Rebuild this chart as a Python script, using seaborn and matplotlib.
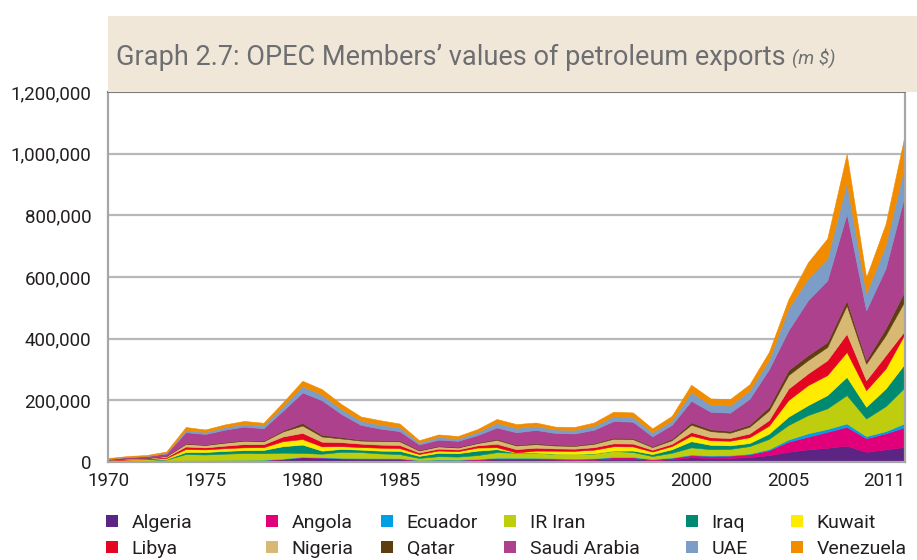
import matplotlib
matplotlib.use("Agg")
import matplotlib.pyplot as plt
from matplotlib.patches import Patch, Rectangle
import numpy as np
import pandas as pd
import seaborn as sns

# values of petroleum exports, m $, 1970-2011
years = list(range(1970, 2012))

algeria = [600, 800, 1000, 1400, 4200, 4300, 4800, 5600, 6000, 9000,
           15000, 13000, 11000, 10000, 9500, 9000, 4500, 5500, 5000, 6500,
           9500, 9500, 9000, 8000, 7000, 7500, 10500, 10500, 6000, 9000,
           15000, 13000, 13000, 16000, 22000, 33000, 41000, 46000, 53000, 33000, 41000, 49000]
angola = [100, 100, 200, 400, 600, 500, 500, 600, 700, 1000,
          1000, 1300, 1400, 1500, 1700, 1800, 1200, 1800, 2000, 2600,
          3500, 3400, 3700, 3000, 3000, 3500, 4800, 4800, 3000, 4500,
          7000, 6500, 7500, 9000, 16000, 33000, 41000, 52000, 61000, 44000, 52000, 64000]
ecuador = [100, 100, 200, 500, 600, 600, 800, 900, 800, 1300,
           1500, 1500, 1500, 1600, 1700, 1900, 900, 1000, 900, 1300,
           1400, 1200, 1300, 1200, 1300, 1500, 1700, 1600, 800, 1300,
           2500, 2000, 2000, 2500, 4000, 7000, 11000, 9000, 11000, 7000, 7000, 13000]
iran = [2000, 3300, 3800, 5600, 20500, 19000, 21000, 22000, 21000, 19000,
        12000, 11000, 19000, 19000, 15000, 13000, 6500, 10500, 9700, 12000,
        17500, 16000, 16000, 14000, 14000, 15000, 19000, 15500, 9500, 15000,
        23000, 20000, 20000, 24000, 33000, 47000, 59000, 67000, 92000, 57000, 81000, 117000]
iraq = [800, 1400, 1100, 1800, 6500, 8000, 8800, 9500, 10500, 21000,
        27000, 10000, 9500, 8000, 9000, 10500, 6800, 11000, 11000, 14500,
        9600, 400, 500, 400, 400, 500, 700, 4800, 6500, 11500,
        20000, 14000, 11500, 10000, 17000, 27000, 32000, 43000, 59000, 38000, 57000, 77000]
kuwait = [1300, 2100, 2400, 3200, 10000, 8500, 8900, 9000, 9200, 16500,
          18000, 14000, 9000, 8500, 9500, 9000, 6000, 7500, 6500, 10000,
          6500, 700, 6500, 10000, 10500, 12000, 14500, 13500, 8000, 10500,
          18000, 15000, 15000, 19000, 26000, 54000, 65000, 65000, 81000, 54000, 65000, 97000]
libya = [1800, 2400, 2400, 3500, 7800, 6500, 8200, 10400, 9500, 15000,
         20000, 15000, 13000, 11000, 10000, 10000, 5000, 6000, 5500, 7000,
         11000, 10500, 9500, 7500, 7000, 8000, 9300, 9000, 6000, 7000,
         11500, 9500, 9000, 12000, 18000, 37000, 38000, 48000, 59000, 32000, 43000, 10000]
nigeria = [700, 1600, 2000, 3200, 8800, 7700, 9600, 11000, 9500, 16500,
           24000, 17000, 12000, 10000, 11500, 12000, 6500, 7400, 6400, 7500,
           13000, 12000, 11500, 9500, 9000, 11000, 15000, 14500, 8500, 12000,
           24000, 20000, 17000, 22000, 31000, 44000, 43000, 43000, 92000, 54000, 65000, 97000]
qatar = [200, 300, 400, 600, 1900, 1800, 2100, 2000, 2200, 3600,
         8000, 5500, 4500, 3000, 3500, 3000, 1700, 1900, 1700, 1900,
         3000, 2800, 3000, 2800, 2400, 2700, 3500, 3500, 2800, 4500,
         7500, 6000, 6000, 6500, 12000, 16000, 16000, 16000, 16000, 11000, 22000, 33000]
saudi_arabia = [2400, 3800, 5500, 7500, 36000, 34000, 40000, 44000, 40000, 64000,
                99000, 112000, 75000, 48000, 37000, 30000, 18000, 20000, 20000, 24000,
                37000, 40000, 43000, 38000, 38000, 43000, 54000, 53000, 32000, 45000,
                70000, 57000, 59000, 84000, 122000, 129000, 178000, 200000, 281000, 162000, 195000, 313000]
uae = [500, 800, 1000, 1800, 6500, 6500, 8000, 9000, 9000, 13500,
       20000, 18000, 16000, 13000, 13000, 12000, 6500, 8300, 7500, 10000,
       14500, 14000, 13000, 11000, 11500, 12500, 15500, 15000, 13000, 14000,
       28000, 23000, 23000, 27000, 30000, 71000, 71000, 71000, 102000, 55000, 75000, 99000]
venezuela = [2400, 2600, 2800, 4500, 10000, 8000, 9000, 9200, 8700, 13500,
             18000, 18000, 16000, 14000, 14000, 12500, 7000, 8500, 8000, 9300,
             13000, 12500, 11000, 9300, 9500, 11000, 14500, 15000, 13000, 15000,
             24000, 20000, 21000, 20000, 26000, 29000, 52000, 65000, 92000, 52000, 69000, 96000]

countries = ["Algeria", "Angola", "Ecuador", "IR Iran", "Iraq", "Kuwait",
             "Libya", "Nigeria", "Qatar", "Saudi Arabia", "UAE", "Venezuela"]
colours = ["#5c2483", "#e2007a", "#009fe3", "#bfcd0f", "#008a72", "#ffeb00",
           "#e30521", "#d8b973", "#5e3d0e", "#ae418d", "#7b9dc8", "#f18c00"]

df = pd.DataFrame({"Algeria": algeria, "Angola": angola, "Ecuador": ecuador,
                   "IR Iran": iran, "Iraq": iraq, "Kuwait": kuwait, "Libya": libya,
                   "Nigeria": nigeria, "Qatar": qatar, "Saudi Arabia": saudi_arabia,
                   "UAE": uae, "Venezuela": venezuela}, index=years)

yticks = [0, 200000, 400000, 600000, 800000, 1000000, 1200000]
xticks = [1970, 1975, 1980, 1985, 1990, 1995, 2000, 2005, 2011]

sns.set_theme(style="white")
plt.rcParams['font.family'] = ['Roboto', 'DejaVu Sans']

W, H = 917, 560
fig = plt.figure(figsize=(W / 100, H / 100), dpi=100)
ax = fig.add_axes([108 / W, 1 - 462 / H, (905 - 108) / W, (462 - 92) / H])

# beige title banner
fig.patches.append(Rectangle((108 / W, 1 - 92 / H), 1 - 108 / W, 76 / H,
                             transform=fig.transFigure, facecolor="#f1e7d9",
                             edgecolor="none", zorder=0))
t = fig.text(116 / W, 1 - 57 / H, "Graph 2.7: OPEC Members\u2019 values of petroleum exports",
             fontsize=19.5, color="#6d6e71", va="center", ha="left")

pal = sns.color_palette(colours)
ax.stackplot(df.index, [df[c].values for c in countries], colors=pal,
             linewidth=0.4, edgecolor="face", zorder=2)

ax.set_xlim(1970, 2011)
ax.set_ylim(0, 1200000)
ax.set_yticks(yticks)
ax.set_yticklabels([f"{v:,}" for v in yticks])
ax.set_xticks(xticks)
ax.set_xticklabels([str(v) for v in xticks])
ax.get_xticklabels()[-1].set_ha("right")
ax.tick_params(axis="y", length=0, pad=12, labelsize=13.5, labelcolor="#231f20")
ax.tick_params(axis="x", length=0, pad=7, labelsize=13.5, labelcolor="#231f20")

ax.set_axisbelow(True)
ax.yaxis.grid(True, color="#b8b8b8", linewidth=1.6)
ax.xaxis.grid(False)
for side in ["left", "bottom", "right"]:
    ax.spines[side].set_color("#a6a6a6")
    ax.spines[side].set_linewidth(1.6)
ax.spines["top"].set_color("#7a7a7a")
ax.spines["top"].set_linewidth(1.4)

# the "(m $)" unit right after the title
fig.canvas.draw()
bb = t.get_window_extent()
fig.text(bb.x1 / W + 6 / W, 1 - 58 / H, "(m $)", fontsize=13.5, style="italic",
         color="#6d6e71", va="center", ha="left")

# legend: six columns of two entries
col_x = [106, 266, 381, 504, 686, 791]
for i, x in enumerate(col_x):
    handles = [Patch(facecolor=pal[i], edgecolor="none"),
               Patch(facecolor=pal[i + 6], edgecolor="none")]
    labels = [countries[i], countries[i + 6]]
    fig.legend(handles, labels, loc="upper left",
               bbox_to_anchor=(x / W, 1 - 514 / H), frameon=False,
               fontsize=14, handlelength=0.62, handleheight=0.62,
               handletextpad=0.7, labelspacing=0.4, borderpad=0, borderaxespad=0,
               labelcolor="#231f20")

fig.savefig("out.png", dpi=100)
